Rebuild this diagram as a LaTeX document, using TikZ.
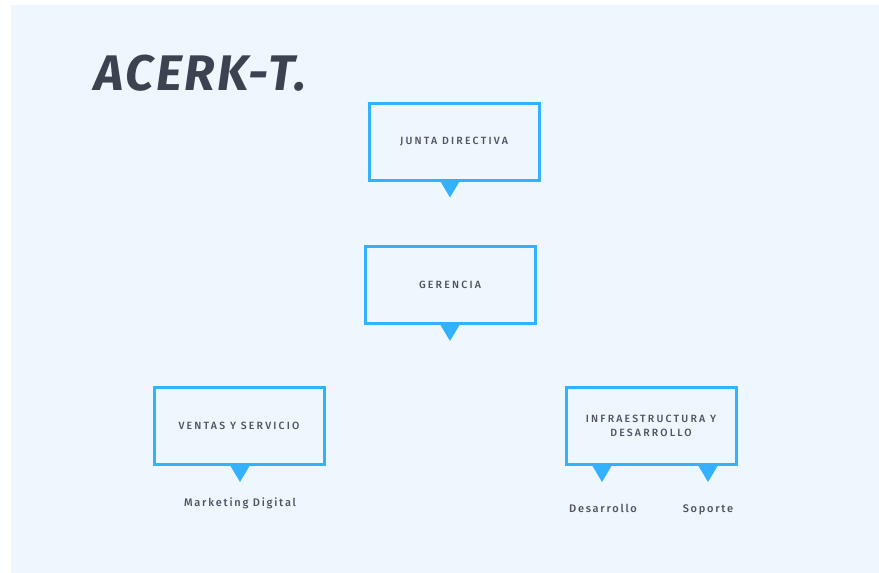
\documentclass[tikz,border=0pt]{standalone}
\usepackage{fontspec}
\setmainfont{Fira Sans}
\newfontfamily\boxfont{Fira Sans}[UprightFont=* Medium]
\usetikzlibrary{positioning, calc}

\definecolor{panelblue}{HTML}{EEF7FE}
\definecolor{boxblue}{HTML}{33B1FF}
\definecolor{inkgray}{HTML}{50525E}
\definecolor{titlegray}{HTML}{3D4250}

\begin{document}
\begin{tikzpicture}[x=1pt, y=-1pt]
    % --- Style Definitions ---
    \tikzset{
        box style/.style={
            draw=boxblue,
            line width=3pt,
            fill=panelblue,
            minimum width=170pt,
            minimum height=77pt,
            inner sep=0pt,
            align=center,
            text=inkgray,
            font=\boxfont\fontsize{10.5}{14.5}\selectfont\addfontfeature{LetterSpace=21}
        },
        tip style/.style={
            fill=boxblue
        },
        label text/.style={
            text=inkgray,
            inner sep=0pt,
            anchor=base,
            font=\boxfont\fontsize{11}{13}\selectfont\addfontfeature{LetterSpace=16}
        }
    }

    % --- 1. Page and Panel ---
    \useasboundingbox (0,0) rectangle (879,573);
    \fill[white] (0,0) rectangle (879,573);
    \fill[panelblue] (11,5) rectangle (879,573);

    % --- 2. Title ---
    \node[anchor=base west, inner sep=0pt, text=titlegray,
          font=\fontsize{50}{50}\selectfont\bfseries\itshape\addfontfeature{LetterSpace=5}] (title) at (94,90) {ACERK-T.};

    % --- 3. Boxes ---
    \node[box style] (junta) at (454,141.5) {JUNTA DIRECTIVA};
    \node[box style] (gerencia) at (450,285) {GERENCIA};
    \node[box style] (ventas) at (239,426) {VENTAS Y SERVICIO};
    \node[box style] (infra) at (651,426) {INFRAESTRUCTURA Y\\DESARROLLO};

    % --- 4. Pointers under the boxes ---
    \fill[tip style] ($(junta.south)+(-13.5,0)$) -- ++(19,0) -- ++(-9.5,16) -- cycle;
    \fill[tip style] ($(gerencia.south)+(-9.5,0)$) -- ++(19,0) -- ++(-9.5,16) -- cycle;
    \fill[tip style] ($(ventas.south)+(-8.5,0)$) -- ++(19,0) -- ++(-9.5,16) -- cycle;
    \fill[tip style] ($(infra.south)+(-58.5,0)$) -- ++(19,0) -- ++(-9.5,16) -- cycle;
    \fill[tip style] ($(infra.south)+(47.5,0)$) -- ++(19,0) -- ++(-9.5,16) -- cycle;

    % --- 5. Sub-areas ---
    \node[label text] (marketing) at (240,506) {Marketing Digital};
    \node[label text] (desarrollo) at (603,512) {Desarrollo};
    \node[label text] (soporte) at (708,512) {Soporte};

\end{tikzpicture}
\end{document}
